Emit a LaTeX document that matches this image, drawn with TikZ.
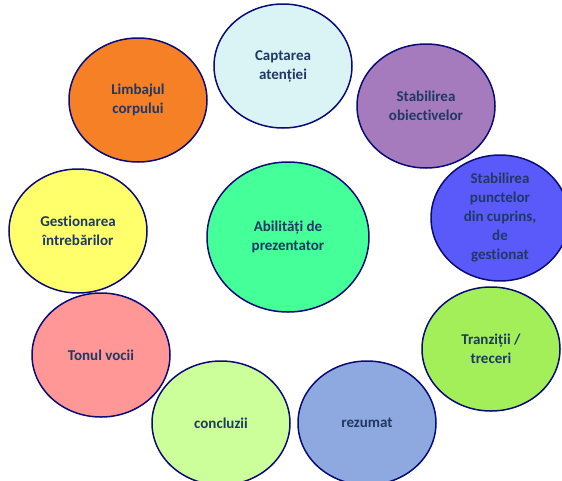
\documentclass[tikz,border=0pt]{standalone}
\usepackage{fontspec}
\setmainfont[Ligatures=NoCommon]{Carlito}
\usetikzlibrary{shapes.geometric}
\definecolor{edgeblue}{HTML}{0A0A78}
\definecolor{txtblue}{HTML}{1F3864}
\definecolor{cCapt}{HTML}{DAF3F5}
\definecolor{cObi}{HTML}{A57BBE}
\definecolor{cPunct}{HTML}{5A5AFA}
\definecolor{cTranz}{HTML}{A2EF5A}
\definecolor{cRez}{HTML}{8EA9E0}
\definecolor{cConc}{HTML}{CCFF99}
\definecolor{cTon}{HTML}{FF9797}
\definecolor{cGest}{HTML}{FFFF6B}
\definecolor{cLimb}{HTML}{F58025}
\definecolor{cCentral}{HTML}{45FF99}
\tikzset{
  bubble/.style={ellipse, draw=edgeblue, line width=1.5pt, inner sep=0pt,
    minimum width=138pt, minimum height=124pt, align=center,
    text=txtblue, font=\fontsize{15}{19}\selectfont\bfseries},
  hub/.style={bubble, minimum width=162pt, minimum height=150pt}
}
\begin{document}
\begin{tikzpicture}[x=1pt,y=-1pt]
\useasboundingbox (0,0) rectangle (562,480);
\clip (0,0) rectangle (562,480);
\node[bubble, fill=cCapt] (capt) at (283,66) {Captarea\\atenției};
\node[bubble, fill=cObi] (obi) at (426,106) {Stabilirea\\obiectivelor};
\node[bubble, fill=cPunct] (punct) at (500,218) {Stabilirea\\punctelor\\din cuprins,\\de\\gestionat};
\node[bubble, fill=cTranz] (tranz) at (491,349) {Tranziții /\\treceri};
\node[bubble, fill=cRez] (rez) at (367,423) {rezumat};
\node[bubble, fill=cConc] (conc) at (221,423) {concluzii};
\node[bubble, fill=cTon] (ton) at (101,355) {Tonul vocii};
\node[bubble, fill=cGest] (gest) at (78,231) {Gestionarea\\întrebărilor};
\node[bubble, fill=cLimb] (limb) at (138,100) {Limbajul\\corpului};
\node[hub, fill=cCentral] (hub) at (288,237) {Abilități de\\prezentator};
\end{tikzpicture}
\end{document}
